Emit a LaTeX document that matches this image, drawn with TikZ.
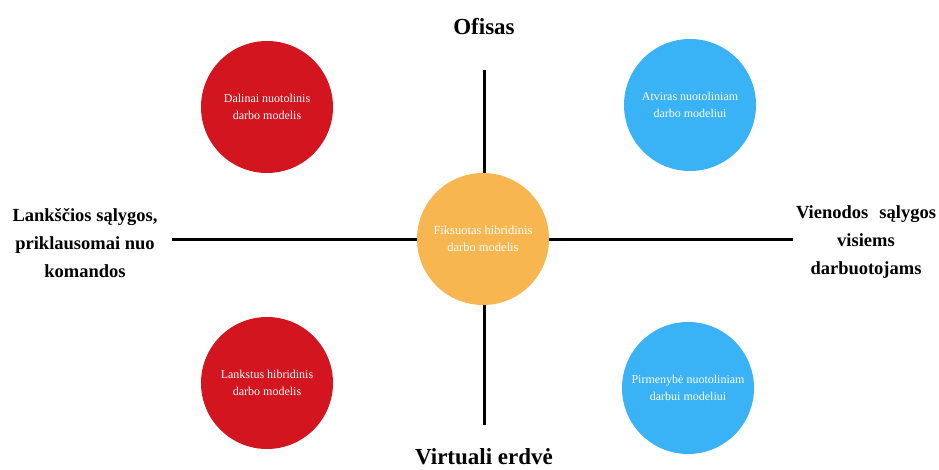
\documentclass[tikz,border=0pt]{standalone}
\usepackage{fontspec}
\setmainfont{Liberation Serif}
\definecolor{cred}{HTML}{D2151F}
\definecolor{cblue}{HTML}{3AB2F6}
\definecolor{corange}{HTML}{F8B650}
\begin{document}
\begin{tikzpicture}[x=1pt,y=-1pt,
  axis/.style={line width=3pt,black},
  bubble/.style={circle,minimum size=132pt,inner sep=0pt,text=white,align=center,
    font=\fontsize{12}{17}\selectfont},
  bigtitle/.style={font=\fontsize{23}{27}\selectfont\bfseries,inner sep=1pt},
  sidetitle/.style={font=\fontsize{18.5}{27.5}\selectfont\bfseries,align=center}]
\useasboundingbox (0,0) rectangle (939,470);
\coordinate (vtop) at (484,70);
\coordinate (vbot) at (484,425);
\coordinate (hleft) at (172,240);
\coordinate (hright) at (793,240);
\draw[axis] (vtop) -- (vbot);
\draw[axis] (hleft) -- (hright);
\node[bubble,fill=cred] (tl) at (267,107) {Dalinai nuotolinis\\darbo modelis};
\node[bubble,fill=cblue] (tr) at (690,105) {Atviras nuotoliniam\\darbo modeliui};
\node[bubble,fill=cred] (bl) at (267,383) {Lankstus hibridinis\\darbo modelis};
\node[bubble,fill=cblue] (br) at (688,388) {Pirmenybė nuotoliniam\\darbui modeliui};
\node[bubble,fill=corange,font=\fontsize{12.5}{17}\selectfont] (c) at (483,239) {Fiksuotas hibridinis\\darbo modelis};
\node[bigtitle,anchor=base] (top) at (484,35) {Ofisas};
\node[bigtitle,anchor=base] (bot) at (484,464) {Virtuali erdvė};
\node[sidetitle,anchor=base] (left) at (85,277) {Lankščios sąlygos,\\priklausomai nuo\\komandos};
\node[sidetitle,anchor=base] (right) at (866,274) {Vienodos\hspace{0.6em}sąlygos\\visiems\\darbuotojams};
\end{tikzpicture}
\end{document}
